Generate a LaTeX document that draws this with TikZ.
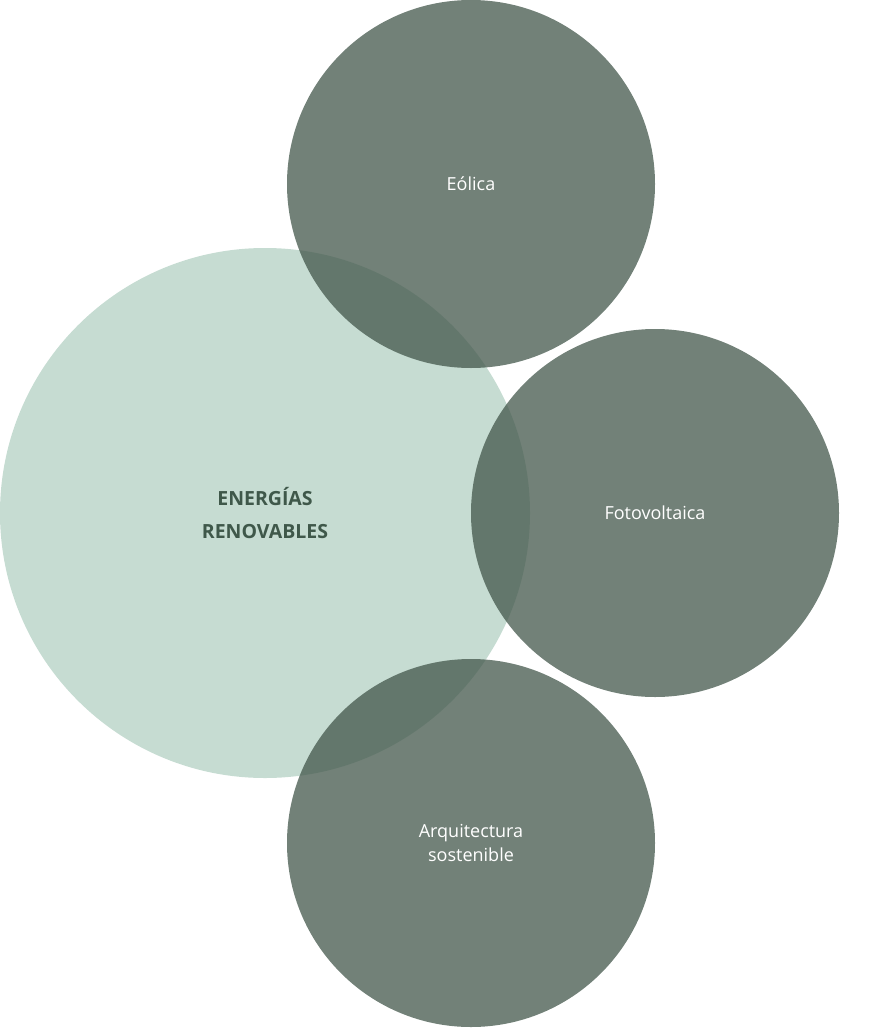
\documentclass[tikz,border=0pt]{standalone}
\usepackage{fontspec}
\setmainfont{Open Sans}
\definecolor{light}{RGB}{198,220,210}
\definecolor{darkc}{RGB}{65,85,73}
\definecolor{titlec}{RGB}{63,88,74}
\begin{document}
\begin{tikzpicture}[x=1pt,y=-1pt,
  small/.style={circle,fill=darkc,fill opacity=0.74,text opacity=1,minimum size=368pt,inner sep=0pt,text=white,font=\fontsize{18}{24}\selectfont,align=center}]
\useasboundingbox (0,0) rectangle (880,1028);
\node[circle,fill=light,minimum size=530pt,inner sep=0pt,text=titlec,font=\fontsize{19.5}{33}\selectfont\bfseries,align=center] (main) at (265,513) {ENERGÍAS\\RENOVABLES};
\node[small] (eol) at (471,184) {Eólica};
\node[small] (foto) at (655,513) {Fotovoltaica};
\node[small] (arq) at (471,843) {Arquitectura\\sostenible};
\end{tikzpicture}
\end{document}
